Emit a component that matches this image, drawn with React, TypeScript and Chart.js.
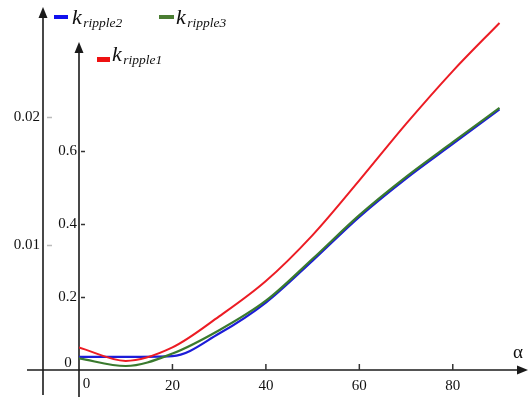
import React, { useEffect, useRef } from "react";
import { Chart, registerables } from "chart.js";

Chart.register(...registerables);

// ---- data ----
const ALPHA = [0, 10, 20, 30, 40, 50, 60, 70, 80, 90];
const K_RIPPLE1 = [0.062, 0.025, 0.062, 0.147, 0.244, 0.37, 0.52, 0.675, 0.82, 0.952];
const K_RIPPLE2 = [0.036, 0.036, 0.038, 0.1, 0.185, 0.3, 0.42, 0.525, 0.62, 0.715];
const K_RIPPLE3 = [0.032, 0.011, 0.045, 0.109, 0.19, 0.305, 0.425, 0.53, 0.625, 0.719];

const X_TICKS = [20, 40, 60, 80];
const X_TICK_LABELS = ["20", "40", "60", "80"];
const Y_TICKS = [0.2, 0.4, 0.6];
const Y_TICK_LABELS = ["0.2", "0.4", "0.6"];
const Y2_TICKS = [0.01, 0.02];
const Y2_TICK_LABELS = ["0.01", "0.02"];
const SERIES_NAMES = ["ripple1", "ripple3", "ripple2"];
const X_AXIS_TITLE = "α";
const ZERO_LABEL = "0";

const FONT = "Liberation Serif";
const RED = "#ec1c24";
const GREEN = "#3a7a2e";
const BLUE = "#1c1cd8";

// legend placement (style only)
const LEGEND_POS = [
  { rx: 97, ry: 57, rw: 13, rh: 5, kx: 112, ky: 61, sy: 63.5 },
  { rx: 159, ry: 15, rw: 15, rh: 4, kx: 176, ky: 24, sy: 26.5 },
  { rx: 54, ry: 15, rw: 14, rh: 4, kx: 72, ky: 24, sy: 26.5 },
];
const LEGEND_SWATCH = ["#ee1111", "#4a7d32", "#1010ee"];

const axesPlugin = {
  id: "customAxes",
  beforeDatasetsDraw(chart: any) {
    const { ctx } = chart;
    const x = chart.scales.x;
    const y = chart.scales.y;
    const y2 = chart.scales.y2;
    const x0 = x.getPixelForValue(0);
    const y0 = y.getPixelForValue(0);
    const xo = y2.right;
    ctx.save();
    ctx.strokeStyle = "#1a1a1a";
    ctx.fillStyle = "#1a1a1a";
    ctx.lineWidth = 1.6;
    // outer vertical axis
    ctx.beginPath();
    ctx.moveTo(xo, 395);
    ctx.lineTo(xo, 16);
    ctx.stroke();
    ctx.beginPath();
    ctx.moveTo(xo, 7);
    ctx.lineTo(xo - 4.5, 18);
    ctx.lineTo(xo + 4.5, 18);
    ctx.closePath();
    ctx.fill();
    // inner vertical axis
    ctx.beginPath();
    ctx.moveTo(x0, 397);
    ctx.lineTo(x0, 50);
    ctx.stroke();
    ctx.beginPath();
    ctx.moveTo(x0, 42);
    ctx.lineTo(x0 - 4.5, 53);
    ctx.lineTo(x0 + 4.5, 53);
    ctx.closePath();
    ctx.fill();
    // horizontal axis
    ctx.beginPath();
    ctx.moveTo(27, y0);
    ctx.lineTo(520, y0);
    ctx.stroke();
    ctx.beginPath();
    ctx.moveTo(528, y0);
    ctx.lineTo(517, y0 - 4.5);
    ctx.lineTo(517, y0 + 4.5);
    ctx.closePath();
    ctx.fill();
    // tick marks
    ctx.lineWidth = 1.5;
    ctx.strokeStyle = "#333";
    Y_TICKS.forEach((v) => {
      const py = Math.round(y.getPixelForValue(v)) + 0.5;
      ctx.beginPath();
      ctx.moveTo(x0 + 2, py);
      ctx.lineTo(x0 + 6, py);
      ctx.stroke();
    });
    X_TICKS.forEach((v) => {
      const px = x.getPixelForValue(v);
      ctx.beginPath();
      ctx.moveTo(px, y0);
      ctx.lineTo(px, y0 - 6);
      ctx.stroke();
    });
    ctx.strokeStyle = "#bbb";
    Y2_TICKS.forEach((v) => {
      const py = Math.round(y2.getPixelForValue(v)) + 0.5;
      ctx.beginPath();
      ctx.moveTo(xo + 4, py);
      ctx.lineTo(xo + 9, py);
      ctx.stroke();
    });
    // zero labels
    ctx.fillStyle = "#111";
    ctx.font = `15px "${FONT}"`;
    ctx.textAlign = "center";
    ctx.textBaseline = "middle";
    ctx.fillText(ZERO_LABEL, x0 - 11, y0 - 7);
    ctx.fillText(ZERO_LABEL, x0 + 7.5, y0 + 14.5);
    // alpha
    ctx.font = `19px "${FONT}"`;
    ctx.textAlign = "left";
    ctx.textBaseline = "alphabetic";
    ctx.fillText(X_AXIS_TITLE, 513, 358);
    ctx.restore();
  },
  afterDraw(chart: any) {
    const { ctx } = chart;
    ctx.save();
    chart.data.datasets.forEach((_ds: any, i: number) => {
      const p = LEGEND_POS[i];
      ctx.fillStyle = LEGEND_SWATCH[i];
      ctx.fillRect(p.rx, p.ry, p.rw, p.rh);
      ctx.fillStyle = "#111";
      ctx.textAlign = "left";
      ctx.textBaseline = "alphabetic";
      ctx.font = `italic 22px "${FONT}"`;
      ctx.fillText("k", p.kx, p.ky);
      const kw = ctx.measureText("k").width;
      ctx.font = `italic 13.5px "${FONT}"`;
      ctx.fillText(SERIES_NAMES[i], p.kx + kw + 1.5, p.sy);
    });
    ctx.restore();
  },
};

export default function App() {
  const ref = useRef<HTMLCanvasElement | null>(null);
  useEffect(() => {
    if (!ref.current) return;
    const tickFont = { family: FONT, size: 15 };
    const chart = new Chart(ref.current, {
      type: "line",
      data: {
        labels: ALPHA,
        datasets: [
          {
            label: "k_ripple1",
            data: ALPHA.map((a, i) => ({ x: a, y: K_RIPPLE1[i] })),
            borderColor: RED,
            borderWidth: 2,
            pointRadius: 0,
            cubicInterpolationMode: "monotone",
            yAxisID: "y",
          },
          {
            label: "k_ripple3",
            data: ALPHA.map((a, i) => ({ x: a, y: K_RIPPLE3[i] })),
            borderColor: GREEN,
            borderWidth: 2.2,
            pointRadius: 0,
            cubicInterpolationMode: "monotone",
            yAxisID: "y",
          },
          {
            label: "k_ripple2",
            data: ALPHA.map((a, i) => ({ x: a, y: K_RIPPLE2[i] })),
            borderColor: BLUE,
            borderWidth: 2.2,
            pointRadius: 0,
            cubicInterpolationMode: "monotone",
            yAxisID: "y",
          },
        ],
      },
      options: {
        animation: false,
        responsive: false,
        layout: { padding: { top: 8, left: 0, right: 0, bottom: 0 } },
        plugins: { legend: { display: false }, tooltip: { enabled: false } },
        scales: {
          x: {
            type: "linear",
            min: 0,
            max: 96.1,
            grid: { display: false, drawTicks: false },
            border: { display: false },
            ticks: {
              font: tickFont,
              color: "#111",
              padding: 7,
              maxRotation: 0,
              autoSkip: false,
              callback: (_v: any, i: number) => X_TICK_LABELS[i],
            },
            afterBuildTicks: (s: any) => {
              s.ticks = X_TICKS.map((v) => ({ value: v }));
            },
            afterFit: (s: any) => {
              s.height = 30;
            },
          },
          y: {
            type: "linear",
            position: "left",
            weight: 0,
            min: 0,
            max: 0.982,
            grid: { display: false, drawTicks: false },
            border: { display: false },
            ticks: {
              font: tickFont,
              color: "#111",
              padding: 2,
              callback: (_v: any, i: number) => Y_TICK_LABELS[i],
            },
            afterBuildTicks: (s: any) => {
              s.ticks = Y_TICKS.map((v) => ({ value: v }));
            },
            afterFit: (s: any) => {
              s.width = 36;
            },
          },
          y2: {
            type: "linear",
            position: "left",
            weight: 1,
            min: 0.000308,
            max: 0.028154,
            grid: { display: false, drawTicks: false },
            border: { display: false },
            ticks: {
              font: tickFont,
              color: "#111",
              padding: 3,
              callback: (_v: any, i: number) => Y2_TICK_LABELS[i],
            },
            afterBuildTicks: (s: any) => {
              s.ticks = Y2_TICKS.map((v) => ({ value: v }));
            },
            afterFit: (s: any) => {
              s.width = 43;
            },
          },
        },
      } as any,
      plugins: [axesPlugin],
    });
    return () => chart.destroy();
  }, []);
  return (
    <div style={{ position: "fixed", left: 0, top: 0, width: 528, height: 400, background: "#fff" }}>
      <canvas ref={ref} width={528} height={400} style={{ display: "block" }} />
    </div>
  );
}
